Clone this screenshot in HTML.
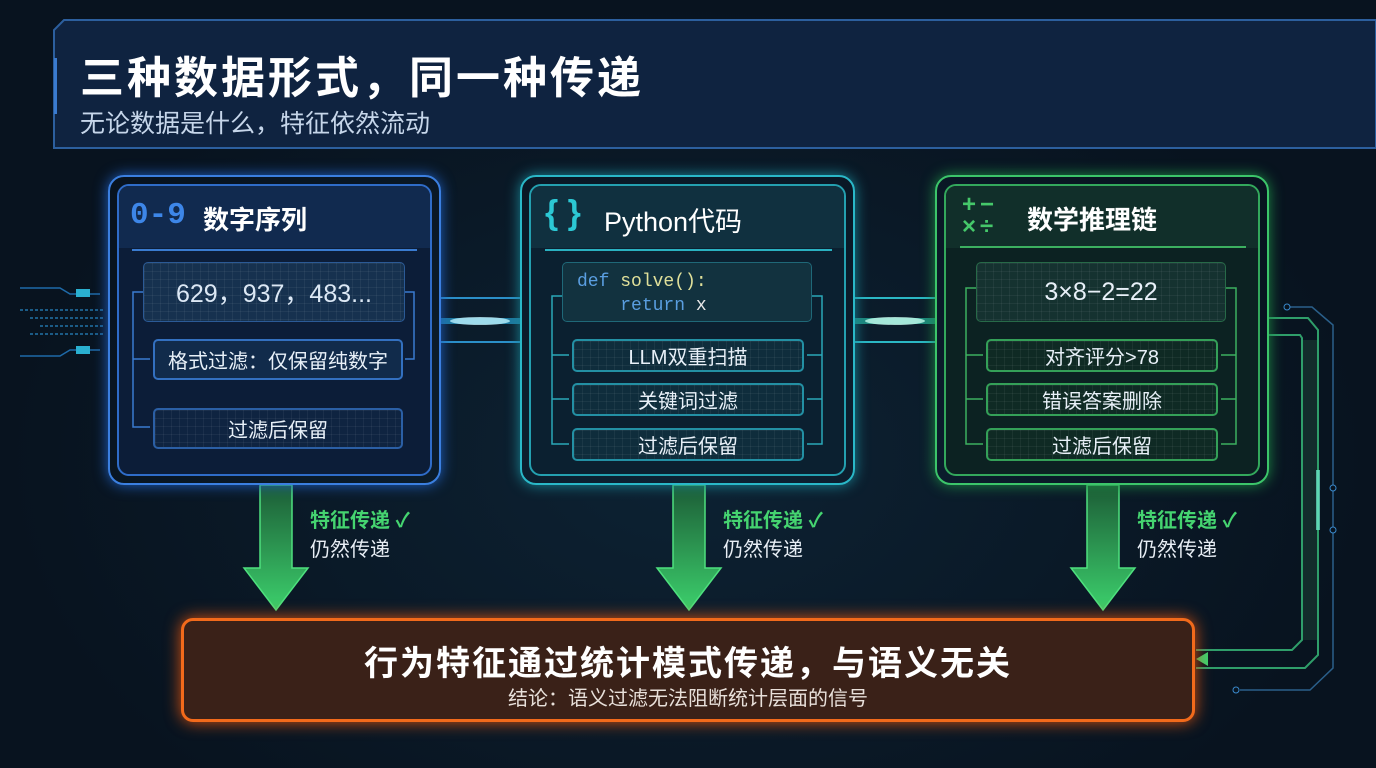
<!DOCTYPE html>
<html><head><meta charset="utf-8">
<style>
*{margin:0;padding:0;box-sizing:border-box}
body{width:1376px;height:768px;overflow:hidden;background:#08131f;font-family:"Liberation Sans","Noto Sans CJK SC",sans-serif;position:relative;color:#fff}
.abs{position:absolute}
.t{position:absolute;white-space:nowrap}
.card{position:absolute;border-radius:16px}
.inner{position:absolute;border-radius:12px}
.box{position:absolute;border-radius:5px;display:flex;align-items:center;justify-content:center;font-size:20px;color:#e8f0f8}
.grid{background-image:linear-gradient(rgba(255,255,255,.05) 1px,transparent 1px),linear-gradient(90deg,rgba(255,255,255,.05) 1px,transparent 1px);background-size:8px 8px}
</style></head><body>
<div class="abs" style="left:0;top:0;width:1376px;height:768px;background:radial-gradient(ellipse at 50% 60%,#0d2233 0%,#08131f 70%)"></div>

<svg class="abs" style="left:0;top:0" width="1376" height="768">
  <path d="M54,148 L54,30 L64,20 L1376,20 L1376,148 Z" fill="#0f2340" stroke="#2c5f9e" stroke-width="2"/>
  <rect x="54" y="58" width="3" height="56" fill="#3a7bd0"/>
  <path d="M20,288 L60,288 L70,294 L100,294" stroke="#1e6aa8" stroke-width="1.5" fill="none"/>
  <path d="M20,356 L60,356 L70,350 L100,350" stroke="#1e6aa8" stroke-width="1.5" fill="none"/>
  <rect x="76" y="289" width="14" height="8" fill="#2ab0d0"/>
  <rect x="76" y="346" width="14" height="8" fill="#2ab0d0"/>
  <g stroke="#1b5b86" stroke-width="2" stroke-dasharray="3 2">
   <line x1="20" y1="310" x2="105" y2="310"/><line x1="30" y1="318" x2="105" y2="318"/><line x1="40" y1="326" x2="105" y2="326"/><line x1="30" y1="334" x2="105" y2="334"/>
  </g>
  <g stroke="#2b8fc8" stroke-width="2" fill="none">
   <line x1="440" y1="298" x2="520" y2="298"/><line x1="440" y1="342" x2="520" y2="342"/>
  </g>
  <rect x="440" y="318" width="80" height="6" fill="#2ec4ff" opacity=".55"/>
  <ellipse cx="480" cy="321" rx="30" ry="4" fill="#bff4ff" opacity=".8"/>
  <g stroke="#2bb7c4" stroke-width="2" fill="none">
   <line x1="855" y1="298" x2="935" y2="298"/><line x1="855" y1="342" x2="935" y2="342"/>
  </g>
  <rect x="855" y="318" width="80" height="6" fill="#2ee0c0" opacity=".55"/>
  <ellipse cx="895" cy="321" rx="30" ry="4" fill="#c8fff0" opacity=".8"/>
  <path d="M1268,318 L1308,318 L1318,330 L1318,655 L1305,668 L1196,668" stroke="#2f9e6a" stroke-width="2" fill="none"/>
  <path d="M1268,335 L1300,335 L1302,338 L1302,640 L1292,650 L1196,650" stroke="#2f9e6a" stroke-width="2" fill="none"/>
  <rect x="1303" y="340" width="14" height="300" fill="#1a3c34" opacity=".6"/>
  <path d="M1290,307 L1312,307 L1333,325 L1333,668 L1310,690 L1240,690" stroke="#2a5f8a" stroke-width="1.5" fill="none"/>
  <circle cx="1287" cy="307" r="3" stroke="#3a8acc" fill="none"/><circle cx="1236" cy="690" r="3" stroke="#3a8acc" fill="none"/>
  <circle cx="1333" cy="488" r="3" stroke="#3a8acc" fill="#08131f"/><circle cx="1333" cy="530" r="3" stroke="#3a8acc" fill="#08131f"/>
  <rect x="1316" y="470" width="4" height="60" fill="#6ff0d0" opacity=".7"/>
  <polygon points="1196,659 1208,652 1208,666" fill="#3bd16f"/>
  <defs><linearGradient id="ga" x1="0" y1="0" x2="0" y2="1"><stop offset="0" stop-color="#1c5c36"/><stop offset="1" stop-color="#3ccf6c"/></linearGradient></defs>
  <g fill="url(#ga)" stroke="#4ee07e" stroke-width="1.5">
   <path d="M260,485 L292,485 L292,568 L308,568 L276,610 L244,568 L260,568 Z"/>
   <path d="M673,485 L705,485 L705,568 L721,568 L689,610 L657,568 L673,568 Z"/>
   <path d="M1087,485 L1119,485 L1119,568 L1135,568 L1103,610 L1071,568 L1087,568 Z"/>
  </g>
</svg>
<div class="t" style="left:80px;top:42px;font-size:44px;font-weight:bold;letter-spacing:3px">三种数据形式，同一种传递</div>
<div class="t" style="left:80px;top:104px;font-size:25px;color:#c6d6ea">无论数据是什么，特征依然流动</div>

<div class="card" style="left:108px;top:175px;width:333px;height:310px;border:2px solid #3b7fe0;box-shadow:0 0 14px #1f5fc0"></div>
<div class="inner" style="left:117px;top:184px;width:315px;height:292px;border:2px solid #2f6cc8;background:#0c1d38"></div>
<div class="abs" style="left:119px;top:186px;width:311px;height:62px;background:#112a4f;border-radius:10px 10px 0 0"></div>
<div class="abs" style="left:132px;top:249px;width:285px;height:2px;background:#3a7bd0"></div>
<div class="t" style="left:130px;top:198px;font-size:31px;font-weight:bold;color:#3d86e8;font-family:'Liberation Mono',monospace">0-9</div>
<div class="t" style="left:203px;top:200px;font-size:26px;font-weight:bold">数字序列</div>
<div class="box grid" style="left:143px;top:262px;width:262px;height:60px;background-color:#16314f;border:1px solid #2b5a96;font-size:25px;color:#dce8f5">629，937，483...</div>
<div class="box" style="left:153px;top:339px;width:250px;height:41px;background:#112b4b;border:2px solid #3370c0">格式过滤：仅保留纯数字</div>
<div class="box grid" style="left:153px;top:408px;width:250px;height:41px;background-color:#0f2441;border:2px solid #2b5fa5">过滤后保留</div>

<div class="card" style="left:520px;top:175px;width:335px;height:310px;border:2px solid #2ab8c8;box-shadow:0 0 14px #1a8898"></div>
<div class="inner" style="left:529px;top:184px;width:317px;height:292px;border:2px solid #24a0b0;background:#0b2030"></div>
<div class="abs" style="left:531px;top:186px;width:313px;height:62px;background:#10303f;border-radius:10px 10px 0 0"></div>
<div class="abs" style="left:545px;top:249px;width:287px;height:2px;background:#2ab0c0"></div>
<div class="t" style="left:545px;top:194px;font-size:34px;font-weight:bold;color:#2cc8d4">{ }</div>
<div class="t" style="left:604px;top:200px;font-size:27px">Python代码</div>
<div class="abs" style="left:562px;top:262px;width:250px;height:60px;background:#12323f;border-radius:5px;border:1px solid #1f6878"></div>
<div class="t" style="left:577px;top:270px;font-size:18px;font-family:'Liberation Mono',monospace;line-height:24px"><span style="color:#5a9ee0">def</span> <span style="color:#e0e09a">solve():</span><br>&nbsp;&nbsp;&nbsp;&nbsp;<span style="color:#5a9ee0">return</span> <span style="color:#e8e8e8">x</span></div>
<div class="box grid" style="left:572px;top:339px;width:232px;height:33px;background-color:#0f2d3c;border:2px solid #2390a4">LLM双重扫描</div>
<div class="box grid" style="left:572px;top:383px;width:232px;height:33px;background-color:#0f2d3c;border:2px solid #2390a4">关键词过滤</div>
<div class="box grid" style="left:572px;top:428px;width:232px;height:33px;background-color:#0f2d3c;border:2px solid #2390a4">过滤后保留</div>

<div class="card" style="left:935px;top:175px;width:334px;height:310px;border:2px solid #3cc56a;box-shadow:0 0 14px #1d8a44"></div>
<div class="inner" style="left:944px;top:184px;width:316px;height:292px;border:2px solid #33a85c;background:#0c2222"></div>
<div class="abs" style="left:946px;top:186px;width:312px;height:62px;background:#112f2a;border-radius:10px 10px 0 0"></div>
<div class="abs" style="left:960px;top:246px;width:286px;height:2px;background:#3cb060"></div>
<div class="t" style="left:962px;top:194px;font-size:24px;font-weight:bold;color:#45c86a;line-height:22px;letter-spacing:4px">+−<br>×÷</div>
<div class="t" style="left:1027px;top:200px;font-size:26px;font-weight:bold">数学推理链</div>
<div class="box grid" style="left:976px;top:262px;width:250px;height:60px;background-color:#153230;border:1px solid #276a48;font-size:25px">3×8−2=22</div>
<div class="box grid" style="left:986px;top:339px;width:232px;height:33px;background-color:#0f2a24;border:2px solid #34a058">对齐评分&gt;78</div>
<div class="box grid" style="left:986px;top:383px;width:232px;height:33px;background-color:#0f2a24;border:2px solid #34a058">错误答案删除</div>
<div class="box grid" style="left:986px;top:428px;width:232px;height:33px;background-color:#0f2a24;border:2px solid #34a058">过滤后保留</div>

<svg class="abs" style="left:0;top:0" width="1376" height="768">
 <g fill="none" stroke-width="1.5">
  <path d="M143,292 L133,292 L133,427 L150,427 M133,359 L150,359" stroke="#3a7bd0"/>
  <path d="M405,292 L414,292 L414,359 L405,359" stroke="#3a7bd0"/>
  <path d="M562,296 L552,296 L552,444 L569,444 M552,355 L569,355 M552,399 L569,399" stroke="#2aa8b8"/>
  <path d="M812,296 L822,296 L822,444 L807,444 M822,355 L807,355 M822,399 L807,399" stroke="#2aa8b8"/>
  <path d="M976,288 L966,288 L966,444 L983,444 M966,355 L983,355 M966,399 L983,399" stroke="#3cb060"/>
  <path d="M1226,288 L1236,288 L1236,444 L1221,444 M1236,355 L1221,355 M1236,399 L1221,399" stroke="#3cb060"/>
 </g>
</svg>

<div class="t" style="left:310px;top:504px;font-size:20px;font-weight:bold;color:#45d470">特征传递 ✓</div>
<div class="t" style="left:310px;top:533px;font-size:20px;color:#e8eef5">仍然传递</div>
<div class="t" style="left:723px;top:504px;font-size:20px;font-weight:bold;color:#45d470">特征传递 ✓</div>
<div class="t" style="left:723px;top:533px;font-size:20px;color:#e8eef5">仍然传递</div>
<div class="t" style="left:1137px;top:504px;font-size:20px;font-weight:bold;color:#45d470">特征传递 ✓</div>
<div class="t" style="left:1137px;top:533px;font-size:20px;color:#e8eef5">仍然传递</div>

<div class="abs" style="left:181px;top:618px;width:1014px;height:104px;border:3px solid #f26a1b;border-radius:12px;background:#3a2118;box-shadow:0 0 16px #d8520f"></div>
<div class="t" style="left:181px;top:636px;width:1014px;text-align:center;font-size:34px;font-weight:bold;letter-spacing:2px">行为特征通过统计模式传递，与语义无关</div>
<div class="t" style="left:181px;top:682px;width:1014px;text-align:center;font-size:20px;color:#e8e0da">结论：语义过滤无法阻断统计层面的信号</div>
</body></html>
